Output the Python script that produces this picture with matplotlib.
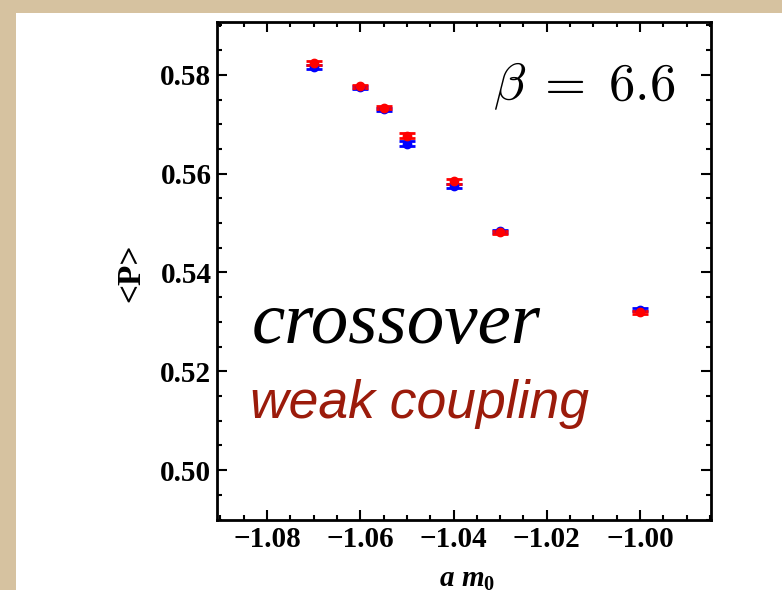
import numpy as np
import matplotlib
matplotlib.use("Agg")
from matplotlib import pyplot as plt
from matplotlib.font_manager import FontProperties
from matplotlib.patches import Rectangle
from matplotlib.ticker import MultipleLocator

#-------------------------------------------------------------
# data
am0      = [-1.07, -1.06, -1.055, -1.05, -1.04, -1.03, -1.00]
p_red    = [0.5824, 0.5777, 0.5733, 0.5677, 0.5585, 0.5481, 0.5319]
err_red  = [0.0004, 0.0003, 0.0003, 0.0005, 0.0005, 0.0003, 0.0003]
p_blue   = [0.5815, 0.5775, 0.5730, 0.5661, 0.5576, 0.5483, 0.5325]
err_blue = [0.0004, 0.0003, 0.0003, 0.0005, 0.0004, 0.0003, 0.0003]

xticks = [-1.08, -1.06, -1.04, -1.02, -1.00]
yticks = [0.50, 0.52, 0.54, 0.56, 0.58]

#-------------------------------------------------------------
plt.rcParams['mathtext.fontset'] = 'custom'
plt.rcParams['mathtext.it'] = 'Liberation Serif:italic:bold'
plt.rcParams['mathtext.rm'] = 'Liberation Serif:bold'

W, H = 782, 590
fig = plt.figure(figsize=(W/100, H/100), dpi=100, facecolor='#d6c2a0')
# white slide on the paper background
fig.patches.append(Rectangle((16/W, 0), 1, 1 - 13/H, transform=fig.transFigure,
                             facecolor='white', edgecolor='none', zorder=-5))

ax = fig.add_axes([217/W, 1 - 520/H, (711 - 217)/W, (520 - 22)/H])
ax.set_facecolor('white')

kw = dict(fmt='o', ms=6, capsize=6, capthick=2, elinewidth=1.5)
ax.errorbar(am0, p_blue, yerr=err_blue, color='#0000ff', mec='#0000ff', **kw)
ax.errorbar(am0, p_red, yerr=err_red, color='#ff0000', mec='#ff0000', **kw)

ax.set_xlim(-1.0907, -0.9848)
ax.set_ylim(0.4899, 0.5907)
ax.set_xticks(xticks)
ax.set_yticks(yticks)
ax.xaxis.set_minor_locator(MultipleLocator(0.005))
ax.yaxis.set_minor_locator(MultipleLocator(0.005))
ax.set_xticklabels([f"\u2212{abs(v):.2f}" for v in xticks])
ax.set_yticklabels([f"{v:.2f}" for v in yticks])

ax.tick_params(which='both', direction='in', top=True, right=True, width=1.5)
ax.tick_params(which='major', length=7)
ax.tick_params(which='minor', length=3.5)
ax.tick_params(labelsize=21, pad=4)
for lab in ax.get_xticklabels() + ax.get_yticklabels():
    lab.set_fontfamily('Liberation Serif')
    lab.set_fontweight('bold')
for s in ax.spines.values():
    s.set_linewidth(2)

#-------------------------------------------------------------
fig.text(131/W, 1 - 273/H, "<P>", rotation=90, ha='center', va='center',
         fontsize=24, fontfamily='Liberation Serif', fontweight='bold')
fig.text(467/W, 1 - 565/H, r"$a\ m_0$", ha='center', va='top', fontsize=21)

beta_fp = FontProperties(size=38)
beta_fp.set_math_fontfamily('cm')
fig.text(493/W, 1 - 100/H, r"$\beta\;=\;6.6$", ha='left', va='baseline',
         fontproperties=beta_fp)
fig.text(252/W, 1 - 343/H, "crossover", ha='left', va='baseline',
         fontsize=54, fontfamily='Liberation Serif', fontstyle='italic')
fig.text(250/W, 1 - 418/H, "weak coupling", ha='left', va='baseline',
         fontsize=38.5, fontfamily='Liberation Sans', fontstyle='italic',
         color='#9b1b0b')

fig.savefig("out.png", dpi=100, facecolor=fig.get_facecolor())
